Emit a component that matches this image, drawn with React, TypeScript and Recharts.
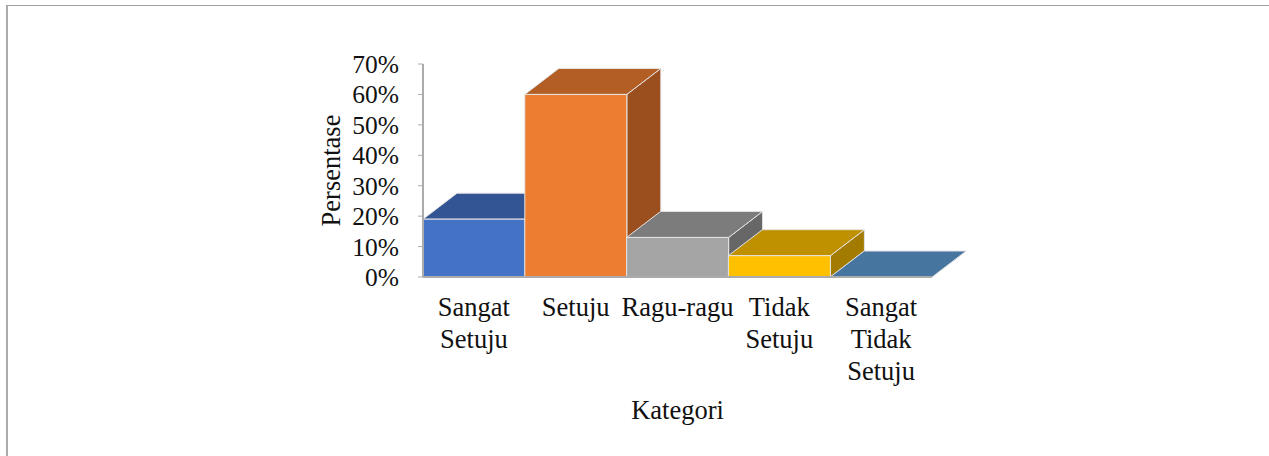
import React from "react";
import { BarChart, Bar, XAxis, YAxis } from "recharts";

const categories = ["Sangat Setuju", "Setuju", "Ragu-ragu", "Tidak Setuju", "Sangat Tidak Setuju"];
const percentages = [19, 60, 13, 7, 0];
const yTicks = [0, 10, 20, 30, 40, 50, 60, 70];
const frontColors = ["#4472C4", "#ED7D31", "#A5A5A5", "#FFC000", "#5B9BD5"];
const topColors = ["#335593", "#B35E25", "#7C7C7C", "#BF9000", "#4675A0"];
const sideColors = ["#29447A", "#9B4F1E", "#676767", "#A37B00", "#3A6288"];

const data = categories.map((name, i) => ({ name, value: percentages[i] }));
const FONT = "'Liberation Serif', 'Times New Roman', serif";
const TEXT = "#111111";
const AXIS = "#ABABAB";
const DX = 34;
const DY = 26;
const EDGE = "#E4E4E4";

function Box3D(props: any) {
  const { x, y, width, height, index } = props;
  const r = x + width;
  const b = y + height;
  return (
    <g stroke={EDGE} strokeWidth={1} strokeLinejoin="round">
      <polygon fill={sideColors[index]} points={`${r},${y} ${r + DX},${y - DY} ${r + DX},${b - DY} ${r},${b}`} />
      <polygon fill={topColors[index]} points={`${x},${y} ${x + DX},${y - DY} ${r + DX},${y - DY} ${r},${y}`} />
      <rect x={x} y={y} width={width} height={height} fill={frontColors[index]} />
    </g>
  );
}

function CategoryTick(props: any) {
  const { x, payload } = props;
  const value: string = payload.value;
  const lines = value === "Ragu-ragu" ? [value] : value.split(" ");
  return (
    <text x={x} textAnchor="middle" fontFamily={FONT} fontSize={26.5} fill={TEXT}>
      {lines.map((l, i) => (
        <tspan key={i} x={x} y={316 + i * 32}>{l}</tspan>
      ))}
    </text>
  );
}

export default function App() {
  return (
    <div style={{ position: "absolute", left: 0, top: 0, width: 1269, height: 456, background: "#fff" }}>
      <div style={{ position: "absolute", left: 6, top: 5, width: 1263, height: 451, borderLeft: "2px solid #ABABAB", borderTop: "1px solid #A0A0A0", boxSizing: "border-box" }} />
      <div style={{ position: "absolute", left: 0, top: 0 }}>
        <BarChart
          width={1269}
          height={456}
          data={data}
          barCategoryGap={0}
          margin={{ top: 64, right: 337, bottom: 0, left: 313 }}
        >
          <XAxis
            dataKey="name"
            interval={0}
            height={179}
            tick={<CategoryTick />}
            tickLine={false}
            stroke={AXIS}
            axisLine={{ stroke: AXIS, strokeWidth: 2 }}
            label={{ value: "Kategori", position: "insideBottom", offset: 37, fontFamily: FONT, fontSize: 26.5, fill: TEXT }}
          />
          <YAxis
            width={110}
            domain={[0, 70]}
            ticks={yTicks}
            interval={0}
            tickFormatter={(v: number) => `${v}%`}
            tick={{ fontFamily: FONT, fontSize: 25.5, fill: TEXT }}
            tickSize={5}
            tickMargin={19}
            stroke={AXIS}
            axisLine={{ stroke: AXIS, strokeWidth: 2 }}
            tickLine={{ stroke: AXIS, strokeWidth: 1 }}
            label={{ value: "Persentase", angle: -90, position: "insideLeft", offset: 18, textAnchor: "middle", fontFamily: FONT, fontSize: 26.5, fill: TEXT }}
          />
          <Bar dataKey="value" isAnimationActive={false} shape={<Box3D />} />
        </BarChart>
      </div>
    </div>
  );
}
